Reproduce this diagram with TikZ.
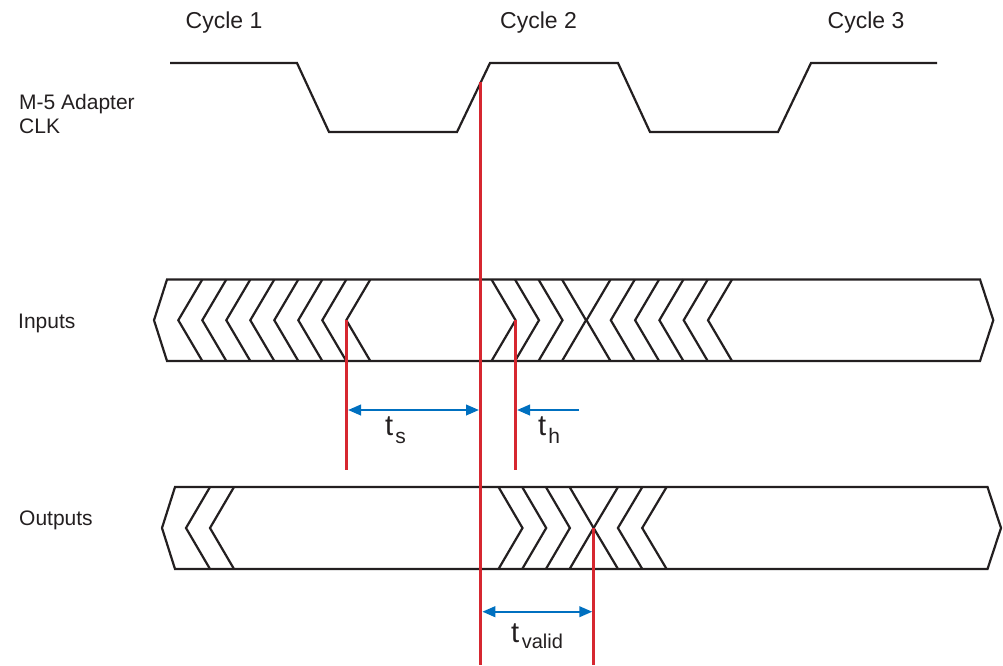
\documentclass[tikz,border=0pt]{standalone}
\usepackage{fontspec}
\setmainfont{Liberation Sans}
\usetikzlibrary{arrows.meta}
\definecolor{ink}{RGB}{35,31,32}
\definecolor{redl}{RGB}{214,39,48}
\definecolor{bluel}{RGB}{0,112,192}
\begin{document}
\begin{tikzpicture}[x=1pt,y=-1pt,
  sig/.style={draw=ink,line width=2.2pt,line join=miter},
  redline/.style={draw=redl,line width=2.7pt},
  dim/.style={draw=bluel,line width=2.4pt},
  tip/.tip={Triangle[length=13pt,width=10.5pt]},
  lbl/.style={anchor=base west,inner sep=0pt,text=ink,font=\fontsize{21}{25}\selectfont},
  cyc/.style={anchor=base west,inner sep=0pt,text=ink,font=\fontsize{23}{27}\selectfont},
  tlbl/.style={anchor=base west,inner sep=0pt,text=ink,font=\fontsize{29}{32}\selectfont}]
\useasboundingbox (0,0) rectangle (1003,665);

% labels
\node[cyc] (cyc1) at (185.5,28) {Cycle 1};
\node[cyc] (cyc2) at (500,28) {Cycle 2};
\node[cyc] (cyc3) at (827.5,28) {Cycle 3};
\node[lbl] (clk1) at (19,109) {M-5 Adapter};
\node[lbl] (clk2) at (19,133.5) {CLK};
\node[lbl] (inp) at (18,328.5) {Inputs};
\node[lbl] (outp) at (19,525) {Outputs};

% clock
\draw[sig] (170,63) -- (297,63) -- (329,132) -- (457,132) -- (490,63) -- (618,63)
  -- (650,132) -- (778,132) -- (811,63) -- (937,63);

% inputs bus
\draw[sig] (167,279.5) -- (980,279.5) -- (993.3,320.2) -- (980,361) -- (167,361) -- (154,320.2) -- cycle;
\foreach \k in {0,...,7} {
  \draw[sig] ({202.3+24*\k},279.5) -- ({178.3+24*\k},320.2) -- ({202.3+24*\k},361);
}
\foreach \k in {0,...,3} {
  \draw[sig] ({491.5+23.5*\k},279.5) -- ({515.5+23.5*\k},320.2) -- ({491.5+23.5*\k},361);
}
\foreach \k in {0,...,5} {
  \draw[sig] ({610.5+24.3*\k},279.5) -- ({586.5+24.3*\k},320.2) -- ({610.5+24.3*\k},361);
}

% outputs bus
\draw[sig] (175,487) -- (987.5,487) -- (1001,528) -- (987.5,569) -- (175,569) -- (162,528) -- cycle;
\foreach \k in {0,1} {
  \draw[sig] ({210+24*\k},487) -- ({186+24*\k},528) -- ({210+24*\k},569);
}
\foreach \k in {0,...,3} {
  \draw[sig] ({498.5+23.7*\k},487) -- ({522.5+23.7*\k},528) -- ({498.5+23.7*\k},569);
}
\foreach \k in {0,...,2} {
  \draw[sig] ({618+24.3*\k},487) -- ({593.6+24.3*\k},528) -- ({618+24.3*\k},569);
}

% red reference lines
\coordinate (clkedge) at (480.6,82);
\coordinate (mainbot) at (480.6,665);
\coordinate (setupT) at (346.3,320.2);
\coordinate (setupB) at (346.3,470);
\coordinate (holdT) at (515.5,320.2);
\coordinate (holdB) at (515.5,470);
\coordinate (validT) at (593.6,528);
\coordinate (validB) at (593.6,665);
\draw[redline] (clkedge) -- (mainbot);
\draw[redline] (setupT) -- (setupB);
\draw[redline] (holdT) -- (holdB);
\draw[redline] (validT) -- (validB);

% dimension arrows
\coordinate (tsL) at (348,410);
\coordinate (tsR) at (479,410);
\coordinate (thL) at (517,410);
\coordinate (thR) at (579,410);
\coordinate (tvL) at (482.3,611.7);
\coordinate (tvR) at (592.3,611.7);
\draw[dim,tip-tip] (tsL) -- (tsR);
\draw[dim,-tip] (thR) -- (thL);
\draw[dim,tip-tip] (tvL) -- (tvR);

\node[tlbl] (tsl) at (385,435.5) {t\kern2pt\raisebox{-8pt}{\fontsize{21}{21}\selectfont s}};
\node[tlbl] (thl) at (538,435.5) {t\kern2pt\raisebox{-8pt}{\fontsize{21}{21}\selectfont h}};
\node[tlbl] (tvl) at (511,642) {t\kern2.5pt\raisebox{-6.6pt}{\fontsize{20}{20}\selectfont valid}};
\end{tikzpicture}
\end{document}
